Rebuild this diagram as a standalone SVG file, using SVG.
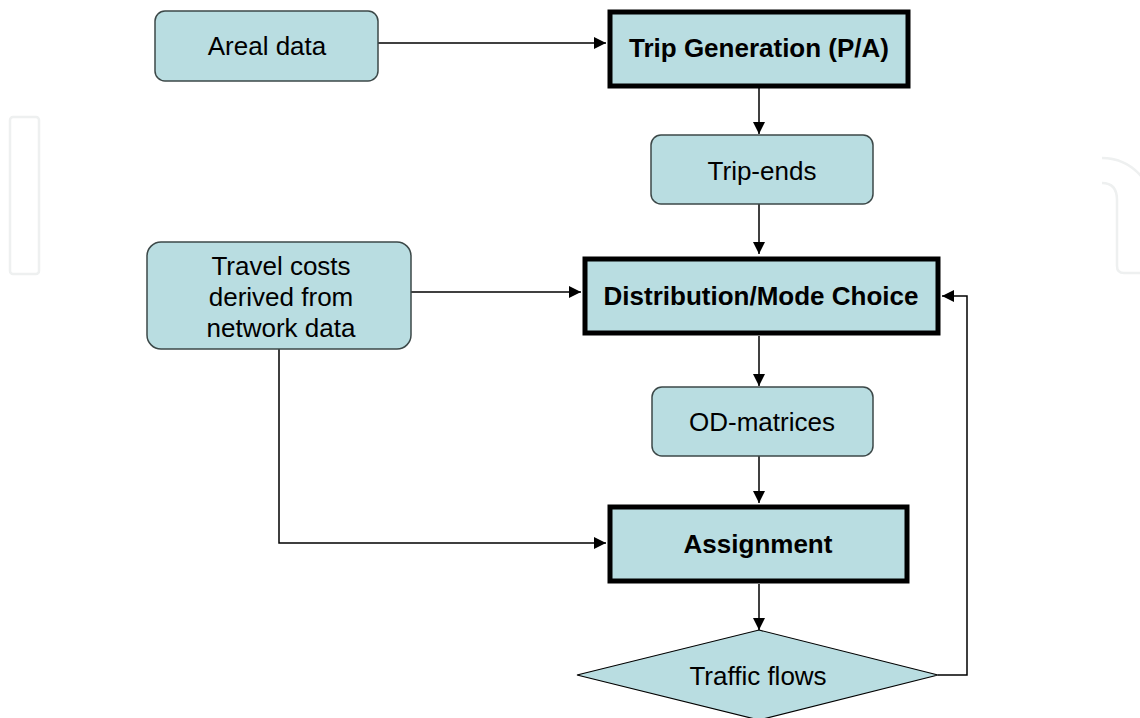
<svg xmlns="http://www.w3.org/2000/svg" width="1140" height="718" viewBox="0 0 1140 718">
<defs>
<marker id="ah" viewBox="0 0 12 12" refX="12" refY="6" markerWidth="12" markerHeight="12" markerUnits="userSpaceOnUse" orient="auto">
<path d="M0 0 L12 6 L0 12 Z" fill="#000"/>
</marker>
</defs>
<style>
.soft{fill:#b9dde1;stroke:#3c4848;stroke-width:1.5}
.hard{fill:#b9dde1;stroke:#000;stroke-width:5}
.t{font-family:"Liberation Sans",Arial,sans-serif;font-size:26px;fill:#000;text-anchor:middle}
.b{font-weight:bold}
.c{fill:none;stroke:#000;stroke-width:1.5}
.wm{fill:none;stroke:#eef0f0;stroke-width:2.5}
</style>
<rect width="1140" height="718" fill="#fff"/>
<g id="watermark">
<rect class="wm" x="10" y="117" width="29" height="157" rx="3"/>
<path class="wm" d="M1102 158 A52 52 0 0 1 1141 176"/>
<path class="wm" d="M1102 183 Q1117 183 1117 200 V266 Q1117 273 1124 273 H1141"/>
</g>
<g id="connectors">
<path class="c" d="M378 43 H606" marker-end="url(#ah)"/>
<path class="c" d="M759 88 V134" marker-end="url(#ah)"/>
<path class="c" d="M759 204 V254" marker-end="url(#ah)"/>
<path class="c" d="M411 292 H581" marker-end="url(#ah)"/>
<path class="c" d="M759 336 V386" marker-end="url(#ah)"/>
<path class="c" d="M759 456 V503" marker-end="url(#ah)"/>
<path class="c" d="M279 349 V543 H606" marker-end="url(#ah)"/>
<path class="c" d="M759 584 V630" marker-end="url(#ah)"/>
<path class="c" d="M938 675 H967 V296 H942" marker-end="url(#ah)"/>
</g>
<g id="areal">
<rect class="soft" x="155" y="11" width="223" height="70" rx="10"/>
<text class="t" x="267" y="55">Areal data</text>
</g>
<g id="tripgen">
<rect class="hard" x="610" y="12" width="298" height="74"/>
<text class="t b" x="759" y="57">Trip Generation (P/A)</text>
</g>
<g id="tripends">
<rect class="soft" x="651" y="135" width="222" height="69" rx="10"/>
<text class="t" x="762" y="180">Trip-ends</text>
</g>
<g id="travelcosts">
<rect class="soft" x="147" y="242" width="264" height="107" rx="14"/>
<text class="t" x="281" y="275">Travel costs</text>
<text class="t" x="281" y="306">derived from</text>
<text class="t" x="281" y="337">network data</text>
</g>
<g id="distribution">
<rect class="hard" x="585" y="259" width="353" height="74"/>
<text class="t b" x="761" y="305">Distribution/Mode Choice</text>
</g>
<g id="od">
<rect class="soft" x="652" y="387" width="221" height="69" rx="10"/>
<text class="t" x="762" y="431">OD-matrices</text>
</g>
<g id="assignment">
<rect class="hard" x="610" y="507" width="297" height="74"/>
<text class="t b" x="758" y="553">Assignment</text>
</g>
<g id="traffic">
<polygon class="soft" points="759,630 938,675 759,720 577,675" style="stroke:#000;stroke-width:1.2"/>
<text class="t" x="758" y="685">Traffic flows</text>
</g>
</svg>
